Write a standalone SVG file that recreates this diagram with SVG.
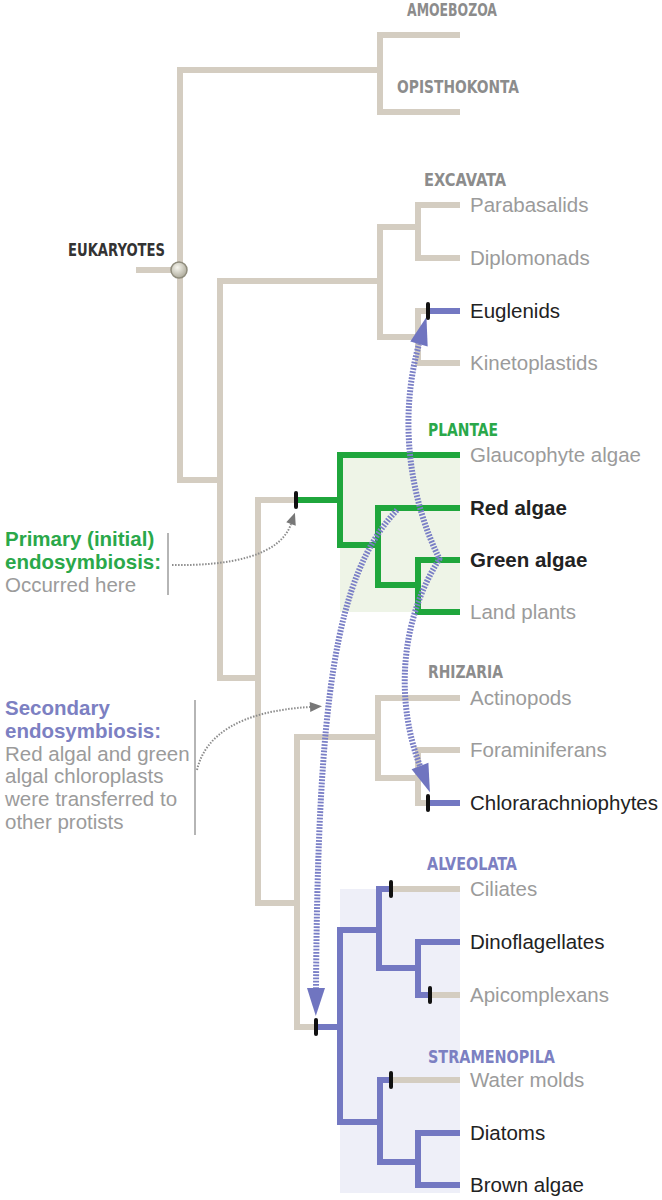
<svg xmlns="http://www.w3.org/2000/svg" width="662" height="1200" viewBox="0 0 662 1200">
<style>
.tan{fill:none;stroke:#d4cdc1;stroke-width:6;stroke-linejoin:miter}
.grn{fill:none;stroke:#1fa63c;stroke-width:6;stroke-linejoin:miter}
.blu{fill:none;stroke:#7378c2;stroke-width:6;stroke-linejoin:miter}
.tick{fill:#111}
.dash{fill:none;stroke:#7a7fc6;stroke-width:6;stroke-dasharray:1.8 1.4}
.dot{fill:none;stroke:#8c8c8c;stroke-width:2;stroke-dasharray:1.5 1.5}
.bar{stroke:#b5b5b5;stroke-width:2}
.lbl{font-family:"Liberation Sans",Arial,sans-serif;font-size:20.5px;fill:#9b9b9b}
.dk{fill:#222}
.b{font-weight:bold}
.cap{font-family:"DejaVu Sans Condensed","DejaVu Sans",sans-serif;font-weight:bold;font-size:17px;fill:#8c8c8c}
.capg{fill:#2aa84a}
.capb{fill:#7c80c2}
.ann{font-family:"Liberation Sans",Arial,sans-serif;font-size:20.5px;fill:#9b9b9b}
.gA{fill:#2aa84a;font-weight:bold}
.bA{fill:#7c80c2;font-weight:bold}
</style>
<defs>
<marker id="ah" markerUnits="userSpaceOnUse" viewBox="0 0 28 18" markerWidth="28" markerHeight="18" refX="0" refY="9" orient="auto" overflow="visible"><path d="M0,0 L28,9 L0,18 z" fill="#7075c0"/></marker>
<marker id="gh" markerUnits="userSpaceOnUse" viewBox="0 0 12 10" markerWidth="12" markerHeight="10" refX="0" refY="5" orient="auto" overflow="visible"><path d="M0,0 L12,5 L0,10 z" fill="#777"/></marker>
<radialGradient id="cg" cx="0.4" cy="0.35" r="0.7"><stop offset="0" stop-color="#f7f6ee"/><stop offset="1" stop-color="#a9a696"/></radialGradient>
</defs>
<rect width="662" height="1200" fill="#fff"/>
<g id="shading">
<rect x="340" y="455" width="120" height="157" fill="#eef4e7"/>
<rect x="340" y="889" width="120" height="304" fill="#eeeff8"/>
</g>
<g id="connectors">
<path class="tan" d="M136,270 H180"/>
<path class="tan" d="M460,35 H380 V112 H460"/>
<path class="tan" d="M380,70 H180 V480 H220"/>
<path class="tan" d="M380,281 H220 V678 H258"/>
<path class="tan" d="M460,205 H418 V258 H460"/>
<path class="tan" d="M418,227 H380 V337 H418"/>
<path class="tan" d="M428,311 H418 V363 H460"/>
<path class="tan" d="M296,500 H258 V903 H297"/>
<path class="tan" d="M378,737 H297 V1027 H316"/>
<path class="tan" d="M460,698 H378 V778 H418"/>
<path class="tan" d="M460,750 H418 V803 H428"/>
<path class="tan" d="M391,889 H460 M430,995 H460 M391,1080 H460"/>
<path class="grn" d="M296,500 H340"/>
<path class="grn" d="M460,455 H340 V545 H378"/>
<path class="grn" d="M460,508 H378 V585 H418"/>
<path class="grn" d="M460,560 H418 V612 H460"/>
<path class="blu" d="M428,311 H460 M428,803 H460 M316,1027 H340"/>
<path class="blu" d="M379,930 H340 V1122 H380"/>
<path class="blu" d="M391,889 H379 V968 H418"/>
<path class="blu" d="M460,942 H418 V995 H430"/>
<path class="blu" d="M391,1080 H380 V1162 H418"/>
<path class="blu" d="M460,1133 H418 V1185 H460"/>
<path class="dash" d="M440,560 C 410,500 398,420 419,344" marker-end="url(#ah)"/>
<path class="dash" d="M440,558 C 400,620 395,700 420,766" marker-end="url(#ah)"/>
<path class="dash" d="M397,510 C 335,575 318,700 316,988" marker-end="url(#ah)"/>
<path class="dot" d="M172,565 C 230,566 280,556 291,524" marker-end="url(#gh)"/>
<path class="dot" d="M197,770 C 205,735 240,711 310,707" marker-end="url(#gh)"/>
</g>
<g id="ticks">
<rect class="tick" x="426" y="302" width="4" height="18" rx="2"/>
<rect class="tick" x="294" y="491" width="4" height="18" rx="2"/>
<rect class="tick" x="426" y="794" width="4" height="18" rx="2"/>
<rect class="tick" x="314" y="1018" width="4" height="18" rx="2"/>
<rect class="tick" x="389" y="880" width="4" height="18" rx="2"/>
<rect class="tick" x="428" y="986" width="4" height="18" rx="2"/>
<rect class="tick" x="389" y="1071" width="4" height="18" rx="2"/>
</g>
<g id="eukaryotes">
<circle cx="179" cy="270" r="8" fill="url(#cg)" stroke="#8f8c7c" stroke-width="1.5"/>
<text class="cap" x="165" y="256" text-anchor="end" style="fill:#333" textLength="97" lengthAdjust="spacingAndGlyphs">EUKARYOTES</text>
</g>
<g id="amoebozoa"><text class="cap" x="407" y="16" textLength="90" lengthAdjust="spacingAndGlyphs">AMOEBOZOA</text></g>
<g id="opisthokonta"><text class="cap" x="397" y="93" textLength="122" lengthAdjust="spacingAndGlyphs">OPISTHOKONTA</text></g>
<g id="excavata">
<text class="cap" x="424" y="186" textLength="82" lengthAdjust="spacingAndGlyphs">EXCAVATA</text>
<text class="lbl" x="470" y="212">Parabasalids</text>
<text class="lbl" x="470" y="265">Diplomonads</text>
<text class="lbl dk" x="470" y="318">Euglenids</text>
<text class="lbl" x="470" y="370">Kinetoplastids</text>
</g>
<g id="plantae">
<text class="cap capg" x="428" y="436" textLength="70" lengthAdjust="spacingAndGlyphs">PLANTAE</text>
<text class="lbl" x="470" y="462">Glaucophyte algae</text>
<text class="lbl dk b" x="470" y="515">Red algae</text>
<text class="lbl dk b" x="470" y="567">Green algae</text>
<text class="lbl" x="470" y="619">Land plants</text>
</g>
<g id="rhizaria">
<text class="cap" x="428" y="678" textLength="75" lengthAdjust="spacingAndGlyphs">RHIZARIA</text>
<text class="lbl" x="470" y="705">Actinopods</text>
<text class="lbl" x="470" y="757">Foraminiferans</text>
<text class="lbl dk" x="470" y="810">Chlorarachniophytes</text>
</g>
<g id="alveolata">
<text class="cap capb" x="427" y="870" textLength="90" lengthAdjust="spacingAndGlyphs">ALVEOLATA</text>
<text class="lbl" x="470" y="896">Ciliates</text>
<text class="lbl dk" x="470" y="949">Dinoflagellates</text>
<text class="lbl" x="470" y="1002">Apicomplexans</text>
</g>
<g id="stramenopila">
<text class="cap capb" x="428" y="1063" textLength="127" lengthAdjust="spacingAndGlyphs">STRAMENOPILA</text>
<text class="lbl" x="470" y="1087">Water molds</text>
<text class="lbl dk" x="470" y="1140">Diatoms</text>
<text class="lbl dk" x="470" y="1192">Brown algae</text>
</g>
<g id="primary-note">
<line class="bar" x1="168" y1="533" x2="168" y2="595"/>
<text class="ann gA" x="5" y="546">Primary (initial)</text>
<text class="ann gA" x="5" y="569">endosymbiosis:</text>
<text class="ann" x="5" y="592">Occurred here</text>
</g>
<g id="secondary-note">
<line class="bar" x1="195" y1="700" x2="195" y2="835"/>
<text class="ann bA" x="5" y="715">Secondary</text>
<text class="ann bA" x="5" y="738">endosymbiosis:</text>
<text class="ann" x="5" y="761">Red algal and green</text>
<text class="ann" x="5" y="783">algal chloroplasts</text>
<text class="ann" x="5" y="806">were transferred to</text>
<text class="ann" x="5" y="829">other protists</text>
</g>
</svg>
